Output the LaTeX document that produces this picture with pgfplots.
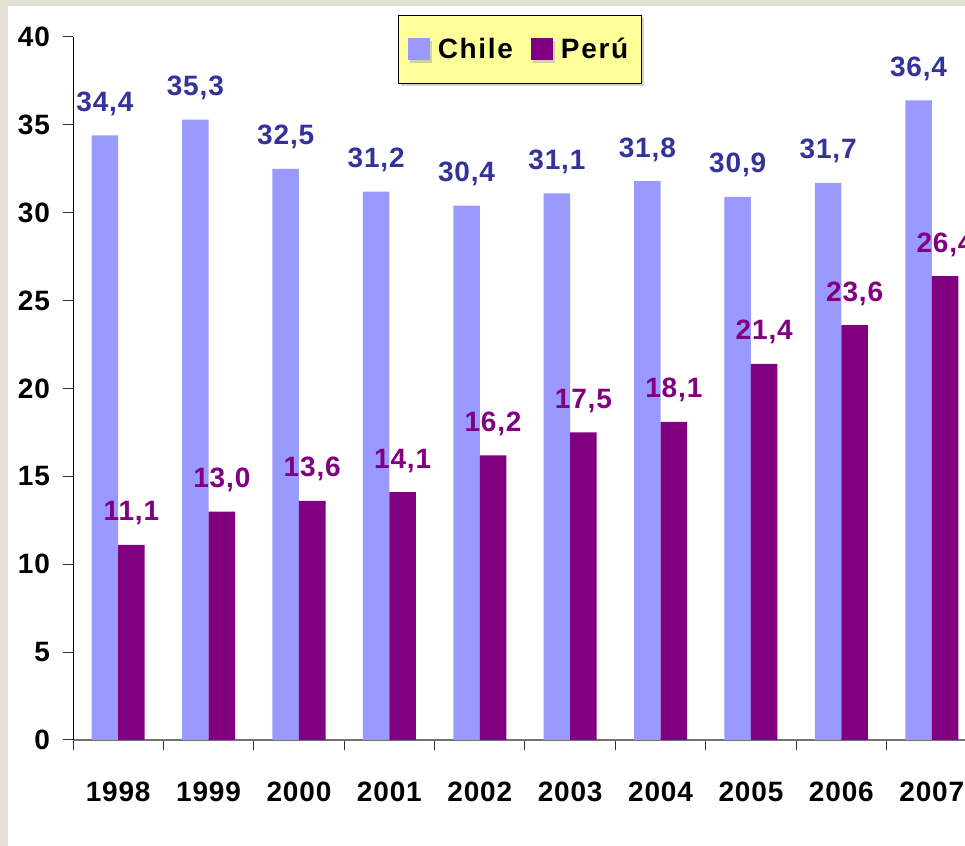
\documentclass[border=0pt]{standalone}
\usepackage{pgfplots}
\pgfplotsset{compat=1.18}
\usetikzlibrary{shadows}
\usepackage{fontspec}
\setmainfont{Liberation Sans}

\definecolor{chile}{HTML}{9999FF}
\definecolor{peru}{HTML}{800080}
\definecolor{chilelab}{HTML}{333399}
\definecolor{legbg}{HTML}{FFFF99}
\definecolor{beige}{HTML}{E3E1D1}
\newcommand{\lblfont}{\fontsize{14}{17}\selectfont\bfseries\addfontfeature{LetterSpace=3}}

\begin{document}
\begin{tikzpicture}[x=0.5pt,y=0.5pt]
\useasboundingbox (0,0) rectangle (965,846);
\fill[beige] (0,0) rectangle (965,846);
\fill[white] (8,0) rectangle (965,840);
\clip (0,0) rectangle (965,846);
\begin{axis}[
    at={(36.5pt,53pt)}, anchor=south west,
    scale only axis, width=452pt, height=351.5pt,
    ybar=0pt, bar width=13.25pt,
    xmin=-0.5, xmax=9.5, ymin=0, ymax=40,
    ytick={0,5,...,40},
    xtick={-0.5,0.5,...,9.5}, xticklabels={},
    extra x ticks={0,1,...,9},
    extra x tick labels={1998,1999,2000,2001,2002,2003,2004,2005,2006,2007},
    extra x tick style={major tick length=0pt},
    axis x line*=bottom, axis y line*=left,
    x axis line style={black!55, line width=0.9pt},
    y axis line style={black, line width=0.5pt},
    tick align=outside, major tick length=5pt,
    tick style={black!80, line width=0.5pt},
    every tick label/.append style={font=\lblfont},
    /pgf/number format/assume math mode=true,
    xticklabel style={yshift=-17.5pt},
    yticklabel style={xshift=-3pt},
    clip=false,
    nodes near coords,
    every node near coord/.append style={font=\lblfont, inner sep=0pt, anchor=base, yshift=12pt,
        /pgf/number format/fixed, /pgf/number format/fixed zerofill,
        /pgf/number format/precision=1, /pgf/number format/use comma},
    legend columns=2,
    legend style={at={(0.4945,1.031)}, anchor=north, fill=legbg, draw=black,
        font=\fontsize{14}{17}\selectfont\bfseries\addfontfeature{LetterSpace=6},
        inner xsep=4.5pt, inner ysep=9pt,
        drop shadow={fill=black!35, shadow xshift=1.2pt, shadow yshift=-1.2pt},
        /tikz/every odd column/.append style={column sep=2pt},
        /tikz/every even column/.append style={column sep=7pt}},
    sq/.style={legend image code/.code={\fill[##1] (0pt,-5.5pt) rectangle (11pt,5.5pt);}},
]
\addplot[fill=chile, draw=none, sq, every node near coord/.append style={text=chilelab}] coordinates {
(0,34.4)(1,35.3)(2,32.5)(3,31.2)(4,30.4)(5,31.1)(6,31.8)(7,30.9)(8,31.7)(9,36.4)};
\addlegendentry{Chile}
\addplot[fill=peru, draw=none, sq, every node near coord/.append style={text=peru}] coordinates {
(0,11.1)(1,13.0)(2,13.6)(3,14.1)(4,16.2)(5,17.5)(6,18.1)(7,21.4)(8,23.6)(9,26.4)};
\addlegendentry{Perú}
\end{axis}
\end{tikzpicture}
\end{document}
